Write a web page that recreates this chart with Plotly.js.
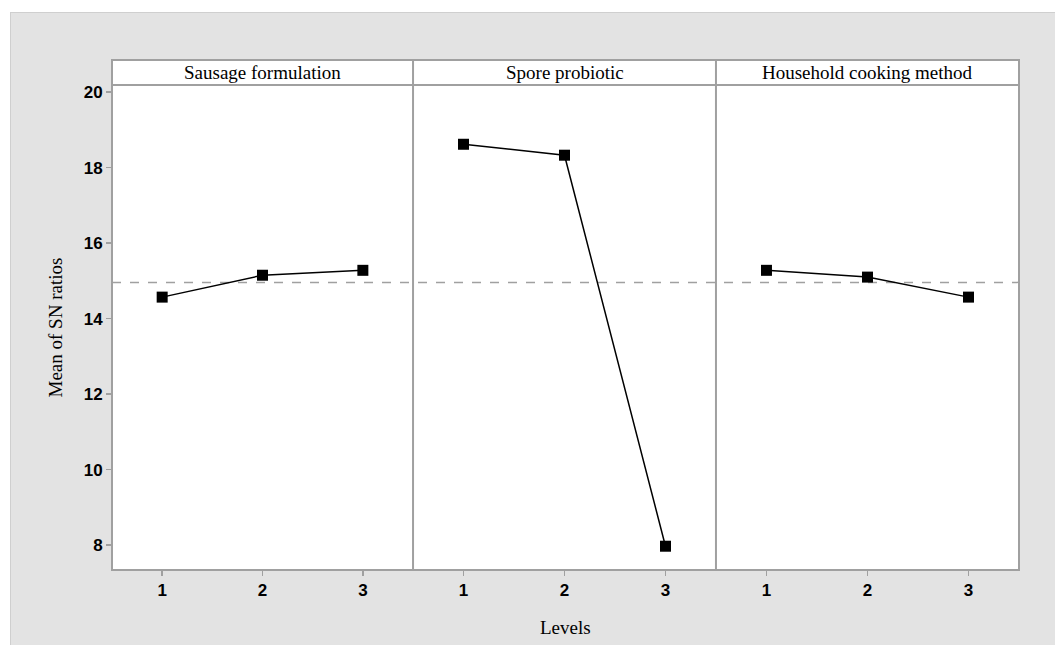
<!DOCTYPE html>
<html>
<head>
<meta charset="utf-8">
<script src="https://cdn.plot.ly/plotly-3.0.1.min.js"></script>
<style>
  html, body { margin: 0; padding: 0; background: #e3e3e3; overflow: hidden; }
  #topband { position: absolute; left: 0; top: 0; width: 100%; height: 12px; background: #ffffff; }
  #leftband { position: absolute; left: 0; top: 0; width: 10px; height: 100%; background: #ffffff; }
  #wrap { position: absolute; left: 10px; top: 12px; width: 2000px; height: 2000px;
          border-left: 1px solid #cfcfcf; border-top: 1px solid #cfcfcf; background: #e3e3e3; }
  #chart { width: 1044px; height: 632px; }
</style>
</head>
<body>
<div id="topband"></div><div id="leftband"></div>
<div id="wrap"><div id="chart"></div></div>
<script>
const factors = ["Sausage formulation", "Spore probiotic", "Household cooking method"];
const levels = [1, 2, 3];
const sausageFormulation = [14.57, 15.15, 15.28];
const sporeProbiotic = [18.62, 18.33, 7.97];
const householdCooking = [15.28, 15.10, 14.57];
const overallMean = 14.96;
const yTicks = [8, 10, 12, 14, 16, 18, 20];

const series = [sausageFormulation, sporeProbiotic, householdCooking];
const axisIds = ["x", "x2", "x3"];
const domains = [[0, 0.3319], [0.3319, 0.6659], [0.6659, 1]];

const traces = series.map((vals, i) => ({
  type: "scatter", mode: "lines+markers",
  x: levels, y: vals,
  xaxis: axisIds[i], yaxis: "y",
  line: { color: "#000000", width: 1.5 },
  marker: { symbol: "square", size: 11, color: "#000000", line: { color: "#000000", width: 0 } },
  showlegend: false, hoverinfo: "x+y"
}));

const frameColor = "#a0a0a0";
const stripTop = 1 + 25 / 485;
const tickFont = { family: "Liberation Sans, Arial, sans-serif", size: 17, color: "#000", weight: "bold" };

const xaxisBase = (i) => ({
  domain: domains[i], range: [0.5, 3.5], anchor: "y",
  tickvals: levels, ticktext: levels.map(String),
  ticks: "outside", ticklen: 5, tickcolor: frameColor, tickwidth: 1.5,
  showgrid: false, zeroline: false, showline: false,
  tickfont: tickFont, fixedrange: true
});

const shapes = [
  { type: "rect", xref: "paper", yref: "paper", x0: 0, x1: 1, y0: 1, y1: stripTop,
    line: { width: 0 }, fillcolor: "#ffffff", layer: "below" },
  { type: "line", xref: "paper", yref: "y", x0: 0, x1: 1, y0: overallMean, y1: overallMean,
    line: { color: "#a0a0a0", width: 1.5, dash: "dash" }, layer: "below" },
  { type: "rect", xref: "paper", yref: "paper", x0: 0, x1: 1, y0: 0, y1: stripTop,
    line: { color: frameColor, width: 2 }, fillcolor: "rgba(0,0,0,0)" },
  { type: "line", xref: "paper", yref: "paper", x0: 0, x1: 1, y0: 1, y1: 1,
    line: { color: frameColor, width: 2 } },
  { type: "line", xref: "paper", yref: "paper", x0: domains[0][1], x1: domains[0][1], y0: 0, y1: stripTop,
    line: { color: frameColor, width: 2 } },
  { type: "line", xref: "paper", yref: "paper", x0: domains[1][1], x1: domains[1][1], y0: 0, y1: stripTop,
    line: { color: frameColor, width: 2 } }
];

const serif = "Liberation Serif, Times New Roman, serif";
const annotations = factors.map((f, i) => ({
  text: f, xref: "paper", yref: "paper",
  x: (domains[i][0] + domains[i][1]) / 2, y: 1 + 12.5 / 485,
  xanchor: "center", yanchor: "middle", showarrow: false,
  font: { family: serif, size: 19, color: "#000" }
}));
annotations.push({
  text: "Levels", xref: "paper", yref: "paper", x: 0.5, y: -57 / 485,
  xanchor: "center", yanchor: "middle", showarrow: false,
  font: { family: serif, size: 19, color: "#000" }
});
annotations.push({
  text: "Mean of SN ratios", xref: "paper", yref: "paper", x: -57 / 907, y: 0.5,
  xanchor: "center", yanchor: "middle", showarrow: false, textangle: -90,
  font: { family: serif, size: 19, color: "#000" }
});

const layout = {
  width: 1044, height: 632,
  margin: { l: 101, r: 36, t: 72, b: 75 },
  paper_bgcolor: "#e3e3e3", plot_bgcolor: "#ffffff",
  xaxis: xaxisBase(0), xaxis2: xaxisBase(1), xaxis3: xaxisBase(2),
  yaxis: {
    range: [7.34, 20.19], tickvals: yTicks, ticktext: yTicks.map(String),
    ticks: "outside", ticklen: 5, tickcolor: frameColor, tickwidth: 1.5,
    showgrid: false, zeroline: false, showline: false,
    tickfont: tickFont, fixedrange: true
  },
  shapes: shapes, annotations: annotations, showlegend: false
};

Plotly.newPlot("chart", traces, layout, { displayModeBar: false, staticPlot: true });
</script>
</body>
</html>
